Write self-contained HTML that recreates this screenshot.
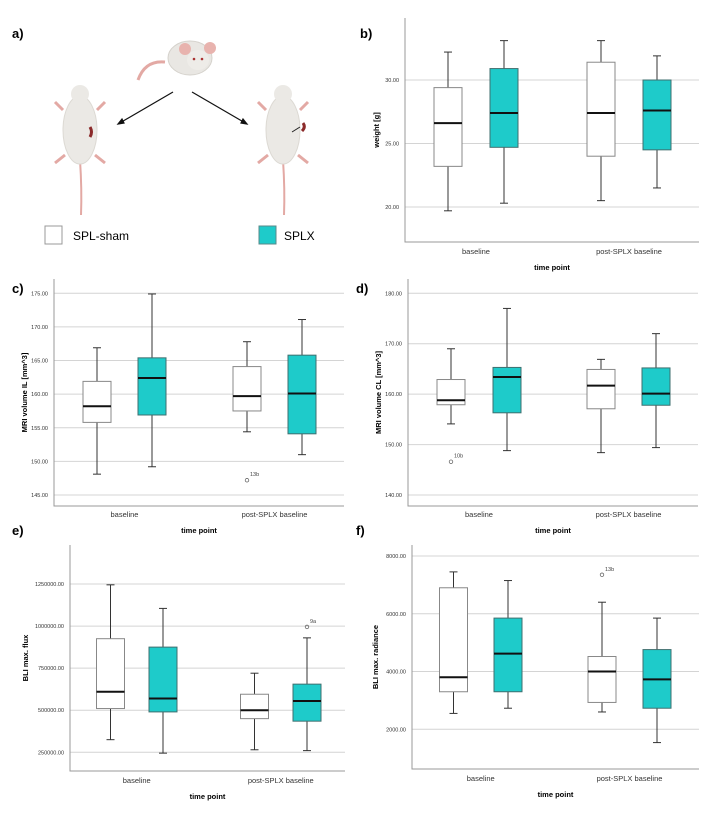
<!DOCTYPE html>
<html><head><meta charset="utf-8"><style>
body{margin:0;background:#fff;width:708px;height:827px;overflow:hidden;font-family:"Liberation Sans",Arial,sans-serif}
svg{position:absolute;left:0;top:0}
</style></head><body>
<svg id="fig" width="708" height="827" font-family="Liberation Sans, Arial, sans-serif">
<g id="panelA">
<text x="12" y="38" font-size="13" font-weight="bold">a)</text>
<g>
<path d="M165 62 Q145 60 138 80" stroke="#e3a9a4" stroke-width="3" fill="none"/>
<ellipse cx="190" cy="58" rx="22" ry="17" fill="#e9e7e3" stroke="#d5d2cc"/>
<circle cx="185" cy="49" r="6" fill="#e8b3ae"/><circle cx="210" cy="48" r="6" fill="#e8b3ae"/>
<ellipse cx="198" cy="60" rx="11" ry="10" fill="#eeece8"/>
<circle cx="194" cy="59" r="1.3" fill="#a33"/><circle cx="202" cy="59" r="1.3" fill="#a33"/>
</g>
<g id="mouseL">
<path d="M80 160 Q82 190 81 215" stroke="#e3a9a4" stroke-width="2" fill="none"/>
<ellipse cx="80" cy="130" rx="17" ry="34" fill="#ebe9e5" stroke="#dcd9d3"/>
<ellipse cx="80" cy="94" rx="9" ry="9" fill="#ebe9e5"/>
<path d="M63 110 L55 102 M97 110 L105 102 M65 155 L55 163 M95 155 L105 163" stroke="#e3a9a4" stroke-width="3"/>
<path d="M90 127 Q93 132 90 137" stroke="#8b2a2a" stroke-width="3" fill="none"/>
</g>
<g>
<path d="M283 160 Q285 190 284 215" stroke="#e3a9a4" stroke-width="2" fill="none"/>
<ellipse cx="283" cy="130" rx="17" ry="34" fill="#ebe9e5" stroke="#dcd9d3"/>
<ellipse cx="283" cy="94" rx="9" ry="9" fill="#ebe9e5"/>
<path d="M266 110 L258 102 M300 110 L308 102 M268 155 L258 163 M298 155 L308 163" stroke="#e3a9a4" stroke-width="3"/>
<path d="M292 132 L300 127" stroke="#222" stroke-width="1"/>
<path d="M303 123 Q306 127 302 131" stroke="#8b2a2a" stroke-width="3" fill="none"/>
</g>
<g stroke="#111" stroke-width="1.2">
<line x1="173" y1="92" x2="118" y2="124"/><path d="M118 124 l6 -1 l-2 -4z" fill="#111"/>
<line x1="192" y1="92" x2="247" y2="124"/><path d="M247 124 l-6 -1 l2 -4z" fill="#111"/>
</g>
<rect x="45" y="226" width="17" height="18" fill="#fff" stroke="#999"/>
<text x="73" y="240" font-size="12">SPL-sham</text>
<rect x="259" y="226" width="17" height="18" fill="#1ecbca" stroke="#5a8a8a"/>
<text x="284" y="240" font-size="12">SPLX</text>
</g>
</svg>
<script>
// Panel b: weight
const bTicks=[20,25,30];
const bWhiskHi=[32.2,33.1,33.1,31.9];
const bQ3=[29.4,30.9,31.4,30.0];
const bMed=[26.6,27.4,27.4,27.6];
const bQ1=[23.2,24.7,24.0,24.5];
const bWhiskLo=[19.7,20.3,20.5,21.5];
// Panel c: MRI IL
const cTicks=[145,150,155,160,165,170,175];
const cWhiskHi=[166.9,174.9,167.8,171.1];
const cQ3=[161.9,165.4,164.1,165.8];
const cMed=[158.2,162.4,159.7,160.1];
const cQ1=[155.8,156.9,157.5,154.1];
const cWhiskLo=[148.1,149.2,154.4,151.0];
const cOutliers=[[2,147.2,"13b"]];
// Panel d: MRI CL
const dTicks=[140,150,160,170,180];
const dWhiskHi=[169.0,177.0,166.9,172.0];
const dQ3=[162.9,165.3,164.9,165.2];
const dMed=[158.8,163.4,161.7,160.1];
const dQ1=[157.9,156.3,157.1,157.8];
const dWhiskLo=[154.1,148.8,148.4,149.4];
const dOutliers=[[0,146.6,"10b"]];
// Panel e: BLI flux
const eTicks=[250000,500000,750000,1000000,1250000];
const eWhiskHi=[1245000,1105000,720000,930000];
const eQ3=[925000,875000,595000,655000];
const eMed=[610000,570000,500000,555000];
const eQ1=[510000,490000,450000,435000];
const eWhiskLo=[325000,245000,265000,260000];
const eOutliers=[[3,995000,"9a"]];
// Panel f: BLI radiance
const fTicks=[2000,4000,6000,8000];
const fWhiskHi=[7450,7150,6400,5850];
const fQ3=[6900,5850,4520,4760];
const fMed=[3800,4620,4000,3730];
const fQ1=[3300,3300,2930,2730];
const fWhiskLo=[2550,2730,2600,1540];
const fOutliers=[[2,7350,"13b"]];
const categories=["baseline","post-SPLX baseline"];
const groups=["SPL-sham","SPLX"];

const NS="http://www.w3.org/2000/svg";
const svg=document.getElementById('fig');
function mk(tag,attrs,parent){const e=document.createElementNS(NS,tag);for(const k in attrs)e.setAttribute(k,attrs[k]);(parent||svg).appendChild(e);return e;}

function panel(o){
  const g=mk('g',{});
  
  
  const y=v=>o.py0+(v-o.v0)*(o.py1-o.py0)/(o.v1-o.v0);
  const lab=mk('text',{x:o.lx,y:o.ly,'font-size':13,'font-weight':'bold'},g);lab.textContent=o.id+')';
  
  
  o.ticks.forEach(t=>{
    const gl=mk('line',{x1:o.ax,x2:o.right,y1:y(t),y2:y(t),stroke:'#d4d4d4','stroke-width':1},g);
    
    
    const tx=mk('text',{x:o.ax-6,y:y(t)+2,'font-size':5.5,'text-anchor':'end',fill:'#333'},g);
    tx.textContent=t.toFixed(2);
    
    
  });
  const ax=mk('path',{d:`M${o.ax} ${o.top} V${o.bottom} H${o.right}`,stroke:'#999',fill:'none','stroke-width':1},g);
  
  
  for(let i=0;i<4;i++){
    const cx=o.cx[i],hw=14,spl=i%2==1;
    const bg=mk('g',{},g);
    
    
    mk('line',{x1:cx,x2:cx,y1:y(o.hi[i]),y2:y(o.q3[i]),stroke:'#333'},bg);
    mk('line',{x1:cx,x2:cx,y1:y(o.q1[i]),y2:y(o.lo[i]),stroke:'#333'},bg);
    mk('line',{x1:cx-4,x2:cx+4,y1:y(o.hi[i]),y2:y(o.hi[i]),stroke:'#333'},bg);
    mk('line',{x1:cx-4,x2:cx+4,y1:y(o.lo[i]),y2:y(o.lo[i]),stroke:'#333'},bg);
    mk('rect',{x:cx-hw,y:y(o.q3[i]),width:2*hw,height:y(o.q1[i])-y(o.q3[i]),fill:spl?'#1ecbca':'#fff',stroke:spl?'#3f6f6f':'#888','stroke-width':1},bg);
    mk('line',{x1:cx-hw,x2:cx+hw,y1:y(o.med[i]),y2:y(o.med[i]),stroke:'#111','stroke-width':2},bg);
  }
  (o.out||[]).forEach(([i,v,l])=>{
    const c=mk('circle',{cx:o.cx[i],cy:y(v),r:1.8,fill:'none',stroke:'#555','stroke-width':0.7},g);
    
    
    const t=mk('text',{x:o.cx[i]+3,y:y(v)-4,'font-size':5.5,fill:'#444'},g);t.textContent=l;
    
    
  });
  categories.forEach((c,k)=>{
    const t=mk('text',{x:(o.cx[2*k]+o.cx[2*k+1])/2,y:o.catY,'font-size':7.5,'text-anchor':'middle',fill:'#333'},g);t.textContent=c;
    
    
  });
  const xt=mk('text',{x:(o.ax+o.right)/2,y:o.catY+16,'font-size':7.5,'font-weight':'bold','text-anchor':'middle'},g);xt.textContent='time point';
  
  
  const yc=(o.top+o.bottom)/2;
  const yt=mk('text',{x:o.ylx,y:yc,'font-size':7.5,'font-weight':'bold','text-anchor':'middle',transform:`rotate(-90 ${o.ylx} ${yc})`},g);yt.textContent=o.title;
  
  
}
panel({id:'b',lx:360,ly:38,ax:405,right:699,top:18,bottom:242,v0:20,py0:207,v1:30,py1:80,cx:[448,504,601,657],
  ticks:bTicks,hi:bWhiskHi,q3:bQ3,med:bMed,q1:bQ1,lo:bWhiskLo,catY:254,ylx:379,title:'weight [g]'});
panel({id:'c',lx:12,ly:293,ax:54,right:344,top:279,bottom:506,v0:145,py0:495,v1:175,py1:293.3,cx:[97,152,247,302],
  ticks:cTicks,hi:cWhiskHi,q3:cQ3,med:cMed,q1:cQ1,lo:cWhiskLo,out:cOutliers,catY:517,ylx:27,title:'MRI volume IL [mm^3]'});
panel({id:'d',lx:356,ly:293,ax:408,right:698,top:279,bottom:506,v0:140,py0:495,v1:180,py1:293.3,cx:[451,507,601,656],
  ticks:dTicks,hi:dWhiskHi,q3:dQ3,med:dMed,q1:dQ1,lo:dWhiskLo,out:dOutliers,catY:517,ylx:381,title:'MRI volume CL [mm^3]'});
panel({id:'e',lx:12,ly:535,ax:70,right:345,top:545,bottom:771,v0:250000,py0:752.3,v1:1250000,py1:584,cx:[110.5,163,254.5,307],
  ticks:eTicks,hi:eWhiskHi,q3:eQ3,med:eMed,q1:eQ1,lo:eWhiskLo,out:eOutliers,catY:783,ylx:28,title:'BLI max. flux'});
panel({id:'f',lx:356,ly:535,ax:412,right:699,top:545,bottom:769,v0:2000,py0:729.3,v1:8000,py1:556,cx:[453.5,508,602,657],
  ticks:fTicks,hi:fWhiskHi,q3:fQ3,med:fMed,q1:fQ1,lo:fWhiskLo,out:fOutliers,catY:781,ylx:378,title:'BLI max. radiance'});
</script>
</body></html>
